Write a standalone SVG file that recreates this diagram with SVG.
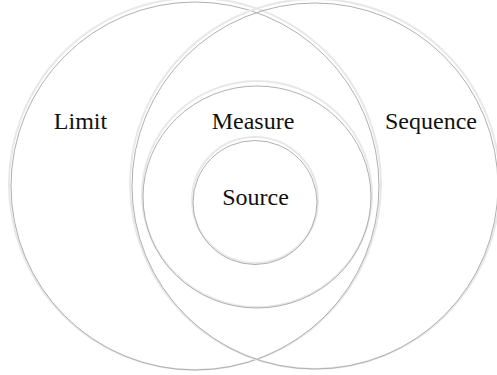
<svg xmlns="http://www.w3.org/2000/svg" width="497" height="375" viewBox="0 0 497 375">
<defs>
<style>
.hl{fill:none;stroke:#e8e8e8;stroke-width:2}
.ln{fill:none;stroke:#b0b0b0;stroke-width:1}
.lb{font-family:"Liberation Serif","Times New Roman",serif;font-size:24px;fill:#111;text-anchor:middle}
</style>
</defs>
<rect width="497" height="375" fill="#fff"/>
<g id="limit">
<circle class="hl" cx="195" cy="184" r="186"/>
<circle class="ln" cx="195" cy="186" r="184"/>
<text class="lb" x="80.5" y="129">Limit</text>
</g>
<g id="sequence">
<circle class="hl" cx="315" cy="184" r="185"/>
<circle class="ln" cx="315" cy="186" r="183"/>
<text class="lb" x="431" y="129">Sequence</text>
</g>
<g id="measure">
<ellipse class="hl" cx="257" cy="194" rx="115" ry="113"/>
<ellipse class="ln" cx="257" cy="197" rx="114" ry="111"/>
<text class="lb" x="253" y="129">Measure</text>
</g>
<g id="source">
<circle class="hl" cx="255" cy="200" r="63"/>
<circle class="ln" cx="255" cy="202.5" r="62"/>
<text class="lb" x="255.5" y="205">Source</text>
</g>
<g id="connectors"></g>
</svg>
